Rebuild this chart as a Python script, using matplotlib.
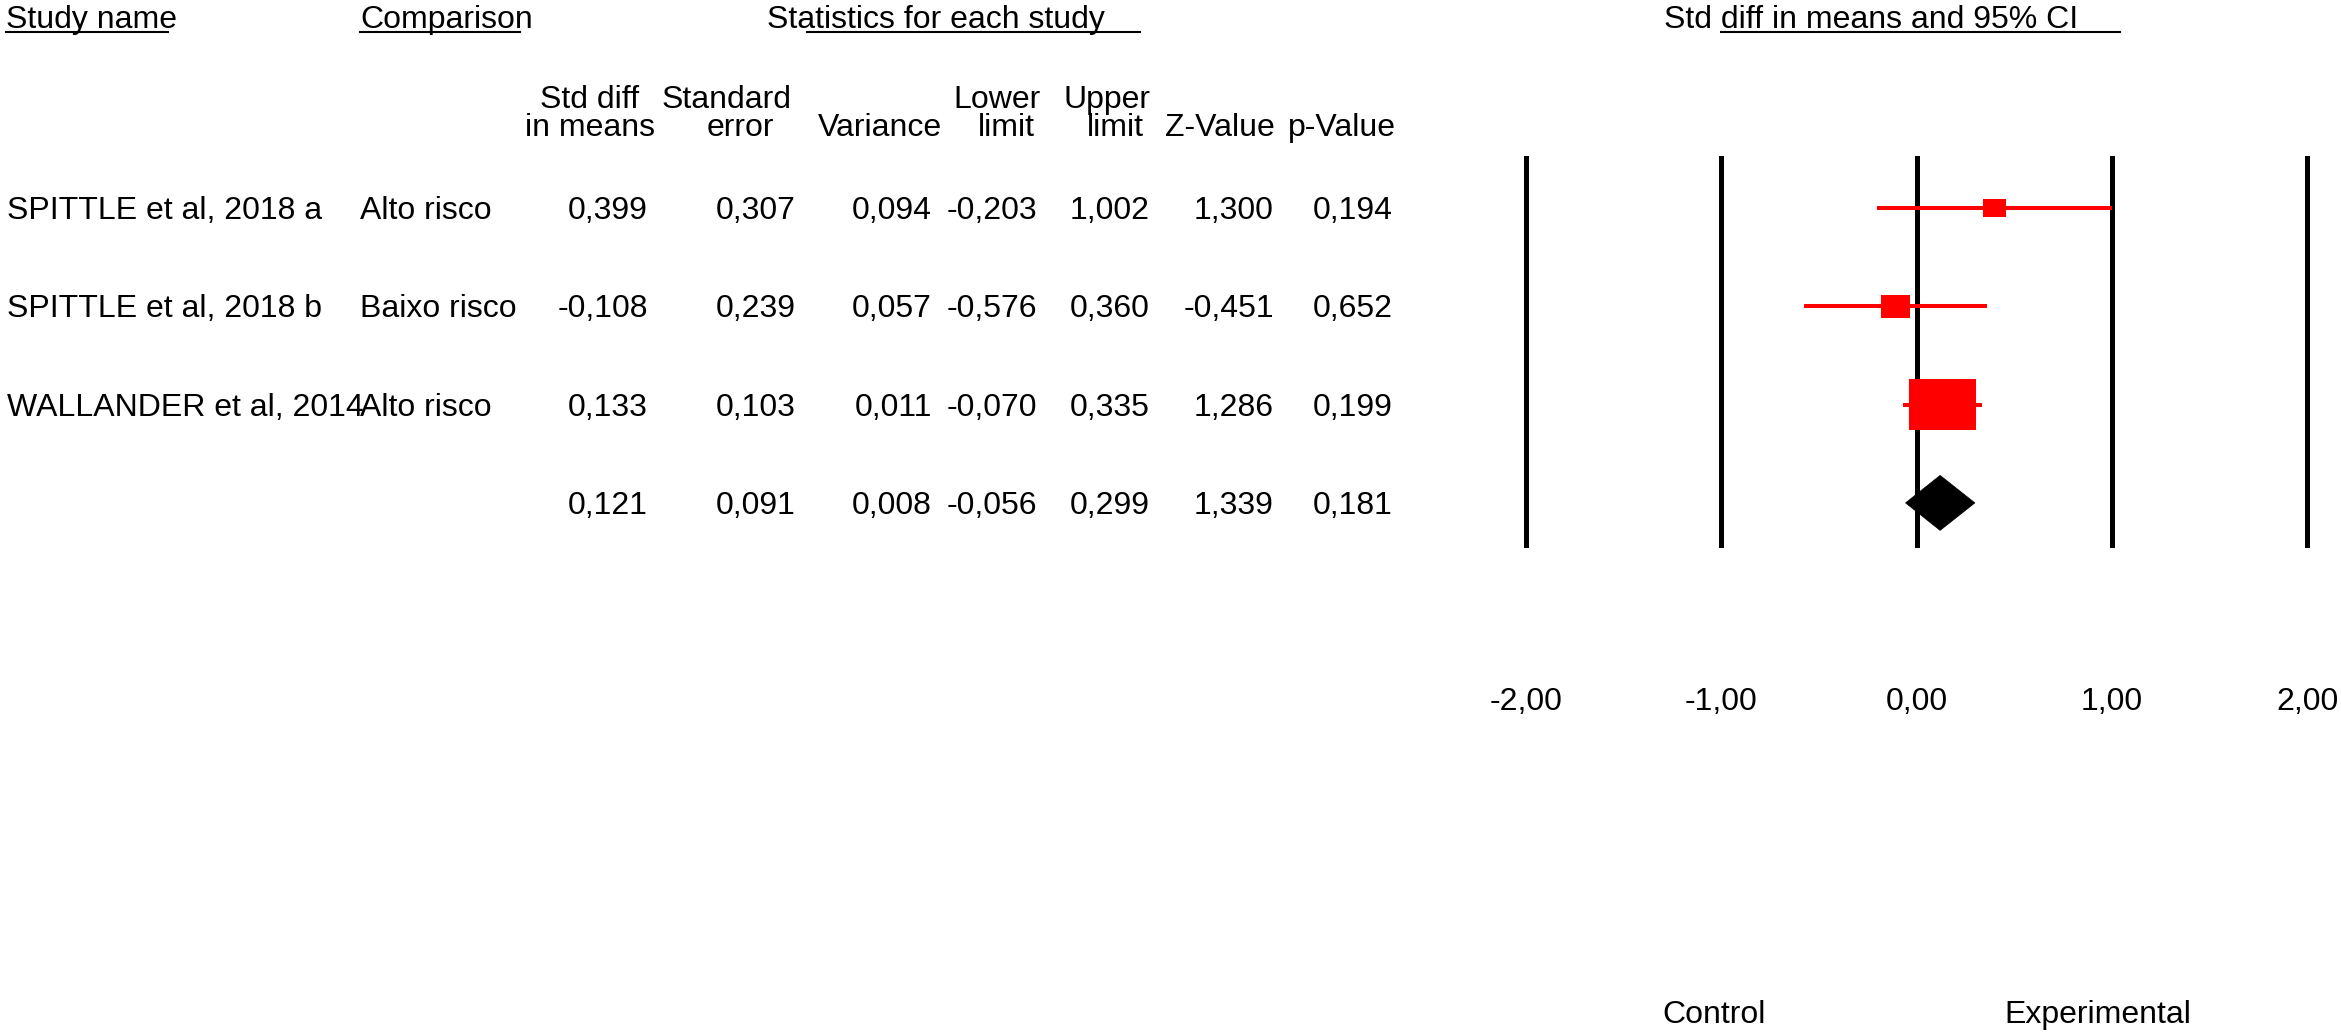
import numpy as np
import matplotlib
matplotlib.use("Agg")
import matplotlib.pyplot as plt
from matplotlib.patches import Rectangle, Polygon

plt.rcParams['font.family'] = ['Liberation Sans', 'DejaVu Sans']

# ---------------- data ----------------
studies = ["SPITTLE et al, 2018 a", "SPITTLE et al, 2018 b", "WALLANDER et al, 2014", ""]
comparisons = ["Alto risco", "Baixo risco", "Alto risco", ""]
std_diff = [0.399, -0.108, 0.133, 0.121]
std_err = [0.307, 0.239, 0.103, 0.091]
variance = [0.094, 0.057, 0.011, 0.008]
lower = [-0.203, -0.576, -0.070, -0.056]
upper = [1.002, 0.360, 0.335, 0.299]
z_value = [1.300, -0.451, 1.286, 1.339]
p_value = [0.194, 0.652, 0.199, 0.181]
is_summary = [False, False, False, True]

tick_vals = [-2, -1, 0, 1, 2]
tick_labels = ["-2,00", "-1,00", "0,00", "1,00", "2,00"]

col_headers = [("Std diff", "in means"), ("Standard", "error"), ("", "Variance"),
               ("Lower", "limit"), ("Upper", "limit"), ("", "Z-Value"), ("", "p-Value")]

# ---------------- layout (pixels) ----------------
W, H = 2341, 1034
FS = 23
ROW0 = 219          # baseline of first data row
ROWPX = 98.3        # row spacing
UNIT = 195.25       # px per effect-size unit
X0PX = 1916.5       # pixel of x=0
PLOT_TOP, PLOT_BOT = 156, 548

fig = plt.figure(figsize=(W / 100, H / 100), dpi=100)
tab = fig.add_axes([0, 0, 1, 1])
tab.set_xlim(0, W)
tab.set_ylim(H, 0)
tab.axis('off')

def fmt(v):
    return f"{v:.3f}".replace('.', ',')

# top headers with partial underlines
ULW = 1.5
tab.text(6, 28, "Study name", fontsize=FS, ha='left', va='baseline')
tab.plot([6, 168], [32, 32], color='black', lw=ULW)
tab.text(360, 28, "Comparison", fontsize=FS, ha='left', va='baseline')
tab.plot([360, 520], [32, 32], color='black', lw=ULW)
tab.text(767, 28, "Statistics for each study", fontsize=FS, ha='left', va='baseline')
tab.plot([807, 1140], [32, 32], color='black', lw=ULW)
tab.text(1664, 28, "Std diff in means and 95% CI", fontsize=FS, ha='left', va='baseline')
tab.plot([1721, 2120], [32, 32], color='black', lw=ULW)

# column headers (centred on measured positions)
hdr_centers = [(590, 590), (727, 740), (None, 880), (997, 1006), (1107, 1115), (None, 1220), (None, 1342)]
for (l1, l2), (c1, c2) in zip(col_headers, hdr_centers):
    if l1:
        tab.text(c1, 108, l1, fontsize=FS, ha='center', va='baseline')
    tab.text(c2, 136, l2, fontsize=FS, ha='center', va='baseline')

# table rows
col_right = [648, 796, 932, 1037, 1150, 1274, 1393]
columns = [std_diff, std_err, variance, lower, upper, z_value, p_value]
for i in range(len(std_diff)):
    yb = ROW0 + ROWPX * i
    if studies[i]:
        tab.text(7, yb, studies[i], fontsize=FS, ha='left', va='baseline')
    if comparisons[i]:
        tab.text(360, yb, comparisons[i], fontsize=FS, ha='left', va='baseline')
    for xr, col in zip(col_right, columns):
        tab.text(xr, yb, fmt(col[i]), fontsize=FS, ha='right', va='baseline')

tab.text(1714, 1023, "Control", fontsize=FS, ha='center', va='baseline')
tab.text(2098, 1023, "Experimental", fontsize=FS, ha='center', va='baseline')

# ---------------- forest plot axes ----------------
L, R = 1420, W
fx = fig.add_axes([L / W, 1 - PLOT_BOT / H, (R - L) / W, (PLOT_BOT - PLOT_TOP) / H])
fx.set_xlim((L - X0PX) / UNIT, (R - X0PX) / UNIT)
row_top = (PLOT_TOP - (ROW0 - 11)) / ROWPX
row_bot = (PLOT_BOT - (ROW0 - 11)) / ROWPX
fx.set_ylim(row_bot, row_top)
fx.patch.set_alpha(0)
for s in fx.spines.values():
    s.set_visible(False)
fx.set_yticks([])
fx.set_xticks(tick_vals)
fx.set_xticklabels(tick_labels, fontsize=FS)
fx.tick_params(axis='x', length=0, pad=100)

for t in tick_vals:
    fx.axvline(t, color='black', lw=3.6, zorder=1)

for i in range(len(std_diff)):
    if is_summary[i]:
        h = 27.5 / ROWPX
        poly = Polygon([[lower[i], i], [std_diff[i], i - h], [upper[i], i], [std_diff[i], i + h]],
                       closed=True, facecolor='black', edgecolor='black', lw=0.5, zorder=4)
        fx.add_patch(poly)
    else:
        fx.plot([lower[i], upper[i]], [i, i], color='#ff0000', lw=2.9, zorder=2,
                solid_capstyle='butt')
        wpx = 7.0 * np.sqrt(1.0 / variance[i])
        hpx = wpx / 1.3
        wd = wpx / UNIT
        hd = hpx / ROWPX
        fx.add_patch(Rectangle((std_diff[i] - wd / 2, i - hd / 2), wd, hd,
                               facecolor='#ff0000', edgecolor='none', zorder=3))

fig.savefig("out.png", dpi=100)
